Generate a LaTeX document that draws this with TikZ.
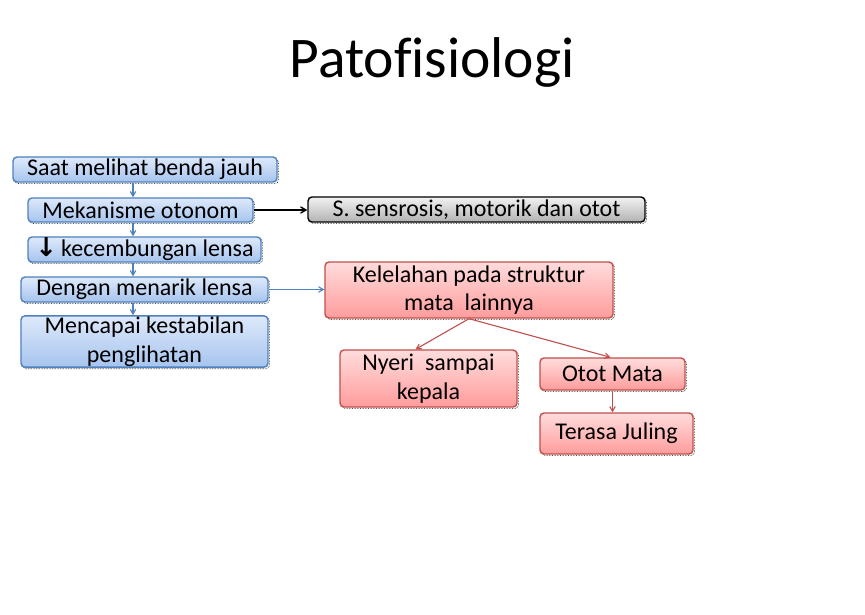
\documentclass[tikz,border=0pt]{standalone}
\usepackage{fontspec}
\setmainfont{Carlito}[Ligatures=CommonOff]
\newfontfamily\symfont{DejaVu Sans}
\usepackage{tikz}
\usetikzlibrary{arrows,shapes,positioning,shadows}
\usepackage{xcolor}
\definecolor{ppblue}{RGB}{79,129,189}
\definecolor{pplightblue}{RGB}{222,233,250}
\definecolor{ppmidblue}{RGB}{166,196,238}
\definecolor{ppred}{RGB}{192,80,77}
\definecolor{pplightred}{RGB}{255,220,220}
\definecolor{ppmidred}{RGB}{255,156,156}
\definecolor{pplightgray}{RGB}{242,242,242}
\definecolor{ppmidgray}{RGB}{178,178,178}
\tikzstyle{dotshadow} = [general shadow={draw=black, fill=none, densely dotted, line width=0.6pt, shadow xshift=1.6pt, shadow yshift=-1.6pt}]
\tikzstyle{stepbox} = [rectangle, rounded corners=4pt, text centered, inner sep=1pt, line width=1.4pt, font=\fontsize{24}{28.5}\selectfont, dotshadow]
\tikzstyle{bluebox} = [stepbox, draw=ppblue, top color=pplightblue, bottom color=ppmidblue]
\tikzstyle{redbox} = [stepbox, draw=ppred, top color=pplightred, bottom color=ppmidred, align=center]
\tikzstyle{graybox} = [stepbox, draw=black, top color=pplightgray, bottom color=ppmidgray]
\tikzstyle{barrow} = [line width=1.1pt,->,>=angle 60,color=ppblue]
\tikzstyle{rarrow} = [line width=1.1pt,->,>=angle 60,color=ppred]
\tikzstyle{karrow} = [line width=1.4pt,->,>=angle 60,color=black]

\begin{document}
\begin{tikzpicture}[x=1pt, y=-1pt]
\useasboundingbox[fill=white] (0,0) rectangle (865,615);
% Title
\node (title) [font=\fontsize{57.5}{60}\selectfont, anchor=base] at (432,78) {Patofisiologi};

% Left column
\node (saat) [bluebox, minimum width=264pt, minimum height=25pt] at (145,169.5) {Saat melihat benda jauh};
\node (meka) [bluebox, minimum width=225pt, minimum height=24pt] at (140.5,210) {Mekanisme otonom};
\node (kecem) [bluebox, minimum width=233pt, minimum height=25pt] at (144.5,249.5) {{\symfont\bfseries\fontsize{26}{24}\selectfont ↓}\,kecembungan lensa};
\node (dengan) [bluebox, minimum width=247pt, minimum height=25pt] at (144.5,289.5) {Dengan menarik lensa};
\node (mencapai) [bluebox, minimum width=247pt, minimum height=47pt, align=center] at (144.5,341.5) {Mencapai kestabilan\\penglihatan};
\coordinate (spine) at (133,0);

% Right side
\node (sens) [graybox, minimum width=337pt, minimum height=25pt] at (476.5,209.5) {S. sensrosis, motorik dan otot};
\node (kelelahan) [redbox, minimum width=288pt, minimum height=56pt] at (469,290) {Kelelahan pada struktur\\mata~ lainnya};
\node (nyeri) [redbox, minimum width=177pt, minimum height=57pt] at (428.5,378.5) {Nyeri~ sampai\\kepala};
\node (otot) [redbox, minimum width=145pt, minimum height=32pt] at (612.5,374) {Otot Mata};
\node (terasa) [redbox, minimum width=153pt, minimum height=41pt] at (616.5,433.5) {Terasa Juling};

% Connectors
\draw[barrow] (saat.south -| spine) -- (meka.north -| spine);
\draw[barrow] (meka.south -| spine) -- (kecem.north -| spine);
\draw[barrow] (kecem.south -| spine) -- (dengan.north -| spine);
\draw[barrow] (dengan.south -| spine) -- (mencapai.north -| spine);
\draw[karrow] (meka.east) -- (sens.west |- meka.east);
\draw[barrow] (dengan.east) -- (kelelahan.west |- dengan.east);
\draw[rarrow] (kelelahan.south) -- ([xshift=-13pt]nyeri.north);
\draw[rarrow] (kelelahan.south) -- ([xshift=-2pt]otot.north);
\draw[rarrow] (otot.south) -- (otot.south |- terasa.north);
\end{tikzpicture}
\end{document}
